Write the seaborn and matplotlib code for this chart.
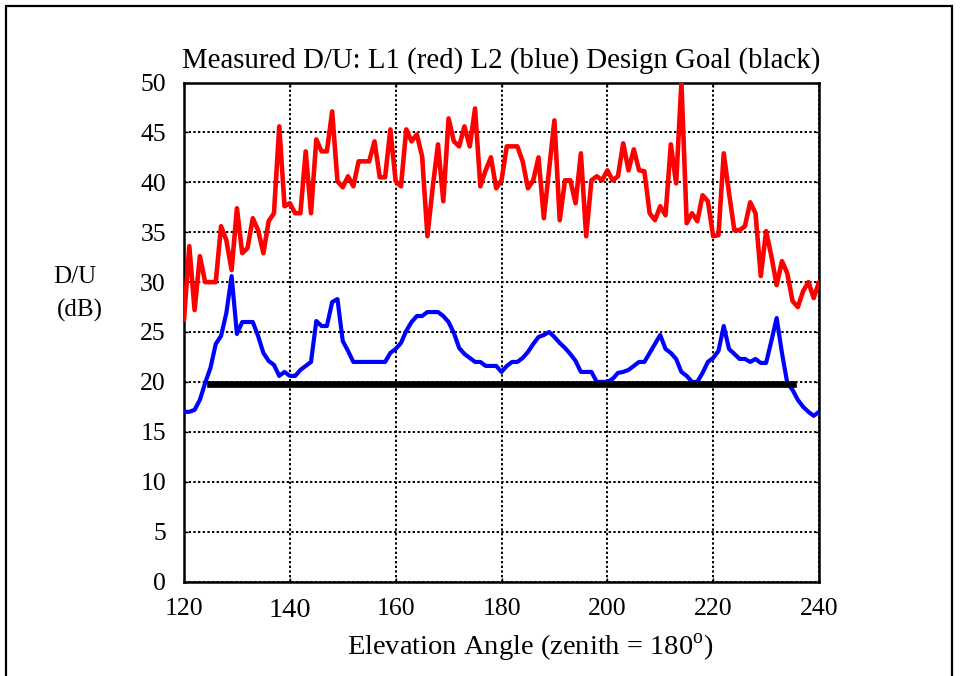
import numpy as np
import pandas as pd
import matplotlib
matplotlib.use("Agg")
import matplotlib.pyplot as plt
from matplotlib.patches import Rectangle
import seaborn as sns

# Elevation angles (degrees), one sample per degree
angles = list(range(120, 241))

# Measured D/U for link L1 (dB)
l1_du = [
    26.2, 33.6, 27.2, 32.6, 30.0, 30.0, 30.0, 35.6, 34.2, 31.2,   # 120-129
    37.4, 32.9, 33.4, 36.4, 35.2, 32.9, 36.1, 36.9, 45.6, 37.6,   # 130-139
    37.9, 36.9, 36.9, 43.1, 36.9, 44.3, 43.1, 43.1, 47.1, 40.1,   # 140-149
    39.5, 40.6, 39.6, 42.1, 42.1, 42.1, 44.1, 40.5, 40.5, 45.3,   # 150-159
    40.1, 39.6, 45.3, 44.1, 44.8, 42.6, 34.6, 39.5, 43.8, 38.1,   # 160-169
    46.4, 44.1, 43.6, 45.6, 43.6, 47.4, 39.6, 41.2, 42.5, 39.4,   # 170-179
    40.2, 43.6, 43.6, 43.6, 42.1, 39.4, 40.2, 42.5, 36.4, 41.3,   # 180-189
    46.2, 36.2, 40.2, 40.2, 37.9, 42.9, 34.6, 40.2, 40.6, 40.2,   # 190-199
    41.2, 40.2, 40.6, 43.9, 41.2, 43.3, 41.2, 41.1, 36.9, 36.2,   # 200-209
    37.6, 36.7, 43.8, 39.9, 50.0, 35.9, 36.9, 36.1, 38.7, 38.1,   # 210-219
    34.6, 34.7, 42.9, 38.9, 35.2, 35.2, 35.6, 38.0, 36.9, 30.6,   # 220-229
    35.1, 32.6, 29.7, 32.1, 30.9, 28.1, 27.5, 29.1, 30.0, 28.4,   # 230-239
    30.0,                                                         # 240
]

# Measured D/U for link L2 (dB)
l2_du = [
    17.0, 17.0, 17.2, 18.2, 19.9, 21.4, 23.8, 24.6, 26.9, 30.6,   # 120-129
    24.8, 26.0, 26.0, 26.0, 24.6, 22.9, 22.1, 21.7, 20.6, 21.0,   # 130-139
    20.6, 20.6, 21.2, 21.6, 22.0, 26.1, 25.6, 25.6, 28.0, 28.3,   # 140-149
    24.1, 23.1, 22.0, 22.0, 22.0, 22.0, 22.0, 22.0, 22.0, 22.9,   # 150-159
    23.3, 23.9, 25.1, 26.0, 26.6, 26.6, 27.0, 27.0, 27.0, 26.6,   # 160-169
    26.0, 24.9, 23.4, 22.8, 22.4, 22.0, 22.0, 21.6, 21.6, 21.6,   # 170-179
    21.0, 21.6, 22.0, 22.0, 22.4, 23.0, 23.8, 24.5, 24.7, 25.0,   # 180-189
    24.5, 23.9, 23.4, 22.8, 22.1, 21.0, 21.0, 21.0, 20.0, 20.0,   # 190-199
    20.0, 20.3, 20.9, 21.0, 21.2, 21.6, 22.0, 22.0, 22.9, 23.8,   # 200-209
    24.7, 23.3, 22.9, 22.3, 21.0, 20.6, 20.0, 20.0, 20.9, 22.0,   # 210-219
    22.4, 23.1, 25.6, 23.3, 22.8, 22.3, 22.3, 22.0, 22.3, 21.9,   # 220-229
    21.9, 24.1, 26.4, 22.9, 19.9, 19.2, 18.2, 17.5, 17.0, 16.6,   # 230-239
    17.0,                                                         # 240
]

# Design goal: constant D/U over the specified elevation span
goal_angles = [125, 235]
goal_du = [19.8, 19.8]

x_ticks = [120, 140, 160, 180, 200, 220, 240]
y_ticks = [0, 5, 10, 15, 20, 25, 30, 35, 40, 45, 50]

df = pd.DataFrame({"angle": angles, "L1": l1_du, "L2": l2_du})
goal = pd.DataFrame({"angle": goal_angles, "goal": goal_du})

sns.set_theme(style="white")
plt.rcParams["font.family"] = ["Liberation Serif", "DejaVu Serif"]
plt.rcParams["mathtext.fontset"] = "custom"
plt.rcParams["mathtext.rm"] = "Liberation Serif"

W, H = 960, 676
fig = plt.figure(figsize=(W / 100, H / 100), dpi=100)
fig.patch.set_facecolor("white")
ax = fig.add_axes([184 / W, 1 - 581.5 / H, (819 - 184) / W, (581.5 - 82.5) / H])

sns.lineplot(data=df, x="angle", y="L1", ax=ax, color="#ff0000",
             linewidth=3.3, estimator=None, zorder=3)
sns.lineplot(data=df, x="angle", y="L2", ax=ax, color="#0000ff",
             linewidth=3.0, estimator=None, zorder=4)
sns.lineplot(data=goal, x="angle", y="goal", ax=ax, color="black",
             linewidth=4.8, estimator=None, zorder=5,
             solid_capstyle="projecting")

ax.set_xlim(120, 240)
ax.set_ylim(0, 50)
ax.set_xticks(x_ticks)
ax.set_yticks(y_ticks)
ax.set_xticklabels([str(t) for t in x_ticks])
ax.set_yticklabels([str(t) for t in y_ticks])
ax.set_xlabel("")
ax.set_ylabel("")

ax.grid(True, color="black", linestyle=(0, (1.2, 1.2)), linewidth=1.4, zorder=1)
ax.set_axisbelow(True)
for side in ["left", "right", "top", "bottom"]:
    ax.spines[side].set_visible(True)
    ax.spines[side].set_color("black")
    ax.spines[side].set_linewidth(1.8)

ax.tick_params(axis="y", direction="in", length=3, width=1, left=True,
               right=True, labelsize=18.5, pad=13, colors="black")
ax.tick_params(axis="x", direction="in", length=3, width=1, bottom=True,
               top=True, labelsize=18.5, pad=12, colors="black")
# the 140 label is set a little larger
for lbl in ax.get_xticklabels():
    if lbl.get_text() == "140":
        lbl.set_fontsize(20.5)

fig.text(501.5 / W, 1 - 61 / H,
         "Measured D/U: L1 (red) L2 (blue) Design Goal (black)",
         ha="center", va="center", fontsize=20.8, color="black")
fig.text(75 / W, 1 - 277 / H, "D/U", ha="center", va="center",
         fontsize=18, color="black")
fig.text(80 / W, 1 - 310 / H, "(dB)", ha="center", va="center",
         fontsize=18, color="black")
fig.text(530 / W, 1 - 648 / H, r"Elevation Angle (zenith = 180$^{\mathrm{o}}$)",
         ha="center", va="center", fontsize=20.5, color="black")

# outer frame around the whole figure
fig.patches.append(Rectangle((6 / W, -0.02), (952 - 6) / W, 1.02 - 6 / H,
                             transform=fig.transFigure, fill=False,
                             edgecolor="black", linewidth=1.6))

fig.savefig("out.png", dpi=100, facecolor="white")
